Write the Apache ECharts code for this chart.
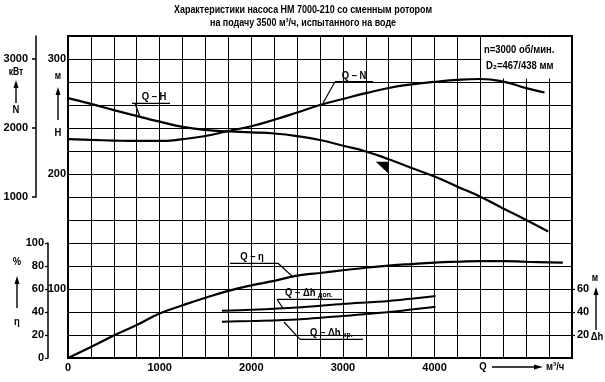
<!DOCTYPE html>
<html><head><meta charset="utf-8">
<script src="https://cdn.jsdelivr.net/npm/echarts@6/dist/echarts.min.js"></script>
<style>html,body{margin:0;padding:0;background:#fff}#c{width:605px;height:382px}</style>
</head><body><div id="c"></div>
<script>
// ---- data ----
const qH   = [0,250,500,750,1000,1250,1500,1750,2000,2250,2500,2750,3000,3250,3500,3750,4000,4250,4500,4750,5000,5240];
const headH = [266,261,255.5,250.5,245.5,241,238.3,237,236.2,235.2,233,229.6,224.6,219.6,212.9,205.2,197.8,189,180.3,170,160,150];

const qN   = [0,250,500,750,1000,1250,1500,1750,2000,2250,2500,2750,3000,3250,3500,3750,4000,4250,4500,4750,5000,5200];
const powerN = [1840,1828,1818,1812,1812,1838,1884,1957,2026,2120,2225,2333,2420,2505,2580,2632,2668,2698,2710,2672,2577,2515];

const qEta = [0,250,500,750,1000,1250,1500,1750,2000,2250,2500,2750,3000,3250,3500,3750,4000,4250,4500,4750,5000,5250,5400];
const eta  = [0,9.5,19.5,28.7,38.7,45.8,52.4,58.4,63.2,67,71.6,73.9,76.3,78.5,80.3,81.7,82.9,83.7,84.3,84.3,83.7,83.2,82.9];

const qDh   = [1680,2000,2500,3000,3500,4010];
const dhDop = [41.1,41.9,43.9,47,49.6,53.9];
const dhKr  = [31.6,32.2,33.5,36.5,40,44.6];

const xTicks   = [0,1000,2000,3000,4000];
const hTicks   = [100,200,300];
const nTicks   = [1000,2000,3000];
const etaTicks = [0,20,40,60,80,100];
const dhTicks  = [20,40,60];
const dutyQ = 3500;

const titleLines = ['Характеристики насоса НМ 7000-210 со сменным ротором', 'на подачу 3500 м³/ч, испытанного на воде'];

// ---- chart ----
const FONT = "'Liberation Sans', Arial, sans-serif";
const lbl = {fontFamily: FONT, fontWeight: 'bold', fontSize: 11, color: '#000'};
const pairs = (xs, ys) => xs.map((x, i) => [x, ys[i]]);
const near = (v, arr) => arr.some(t => Math.abs(v - t) < 0.01);

const chart = echarts.init(document.getElementById('c'));

const SQ = 0.86;
function txt(x, y, s, extra, sq) {
  return {type: 'text', x: x, y: y, z: 50, scaleX: sq || SQ,
    style: Object.assign({text: s, fill: '#000', font: 'bold 11px ' + FONT, align: 'center', verticalAlign: 'middle'}, extra || {})};
}
function ln(x1, y1, x2, y2, w) {
  return {type: 'line', z: 50, shape: {x1: x1, y1: y1, x2: x2, y2: y2}, style: {stroke: '#000', lineWidth: w || 1.2}};
}
function arrowUp(x, yTop, yBot) {
  return [ln(x, yTop + 5, x, yBot, 1.4),
    {type: 'polygon', z: 50, shape: {points: [[x - 2.5, yTop + 8], [x + 2.5, yTop + 8], [x, yTop]]}, style: {fill: '#000'}}];
}
function arrowRight(x1, x2, y) {
  return [ln(x1, y, x2 - 5, y, 1.4),
    {type: 'polygon', z: 50, shape: {points: [[x2 - 9, y - 2.5], [x2 - 9, y + 2.5], [x2, y]]}, style: {fill: '#000'}}];
}
const richSmall = {a: {font: 'bold 11px ' + FONT, fill: '#000'}, b: {font: 'bold 8px ' + FONT, fill: '#000', padding: [3, 0, 0, 0]}};

const cv = document.createElement('canvas').getContext('2d');
cv.font = 'bold 11px ' + FONT;
const titleSq = Math.min(1, 258 / cv.measureText(titleLines[0]).width);

const graphics = [].concat(
  [txt(303, 10, titleLines[0], null, titleSq), txt(303, 23, titleLines[1], null, titleSq)],
  [txt(16, 72, 'кВт', {font: 'bold 10px ' + FONT})], arrowUp(16, 80, 103), [txt(16, 110, 'N')],
  [txt(58, 76, 'м', {font: 'bold 10px ' + FONT})], arrowUp(58, 87, 120), [txt(58, 133, 'H')],
  [txt(17, 262, '%')], arrowUp(17, 276, 308), [txt(17, 322, 'η')],
  [txt(595, 278, 'м', {font: 'bold 10px ' + FONT})], arrowUp(596, 287, 330), [txt(597, 337, 'Δh')],
  [txt(483, 367, 'Q')], arrowRight(492, 543, 367), [txt(546, 367, 'м³/ч', {align: 'left'})],
  [txt(484, 50, 'n=3000 об/мин.', {align: 'left'}), txt(486, 66, 'D₂=467/438 мм', {align: 'left'})],
  [txt(154, 97, 'Q – H'), ln(132, 103.3, 170, 103.3), ln(135, 103.3, 140, 117)],
  [txt(354, 76, 'Q – N'), ln(335, 81.7, 373, 81.7), ln(335, 81.7, 323, 103)],
  [txt(252, 257, 'Q – η'), ln(230, 263.3, 278, 263.3), ln(278, 263.3, 293, 277)],
  [{type: 'text', x: 285, y: 293, z: 50, scaleX: SQ, style: {text: '{a|Q – Δh }{b|доп.}', rich: richSmall, verticalAlign: 'middle'}},
    ln(277, 299.3, 342, 299.3), ln(277, 299.3, 283.5, 309)],
  [{type: 'text', x: 310, y: 333, z: 50, scaleX: SQ, style: {text: '{a|Q – Δh }{b|кр.}', rich: richSmall, verticalAlign: 'middle'}},
    ln(300, 339.3, 363, 339.3), ln(300, 339.3, 284, 322)]
);

const blackLine = {color: '#000', width: 2.2};

chart.setOption({
  animation: false,
  backgroundColor: '#fff',
  grid: [
    {left: 68, right: 33, top: 36, bottom: 24, show: true, borderColor: '#000', borderWidth: 2, backgroundColor: 'transparent'},
    {left: 68, right: 33, top: 36, height: 161},
    {left: 68, right: 33, top: 243, bottom: 24}
  ],
  xAxis: [
    {gridIndex: 0, type: 'value', min: 0, max: 5500, interval: 250,
      axisLine: {onZero: false, lineStyle: {color: '#000', width: 2}}, axisTick: {show: false},
      splitLine: {show: true, lineStyle: {color: '#000', width: 1}},
      axisLabel: Object.assign({}, lbl, {margin: 4, formatter: v => near(v, xTicks) ? String(v) : ''})},
    {gridIndex: 1, type: 'value', min: 0, max: 5500, show: false},
    {gridIndex: 2, type: 'value', min: 0, max: 5500, show: false}
  ],
  yAxis: [
    {gridIndex: 0, type: 'value', min: 40, max: 320, interval: 20,
      axisLine: {show: true, onZero: false, lineStyle: {color: '#000', width: 2}}, axisTick: {show: false},
      splitLine: {show: true, lineStyle: {color: '#000', width: 1}},
      axisLabel: Object.assign({}, lbl, {margin: 2, formatter: v => near(v, hTicks) ? String(v) : ''})},
    {gridIndex: 1, type: 'value', min: 1000, max: 10000 / 3, interval: 1000, position: 'left', offset: 32,
      axisLine: {show: true, onZero: false, lineStyle: {color: '#000', width: 1.5}},
      axisTick: {show: true, length: 4, customValues: nTicks, lineStyle: {color: '#000', width: 1.5}},
      splitLine: {show: false},
      axisLabel: Object.assign({}, lbl, {margin: 8, customValues: nTicks, formatter: v => near(v, nTicks) ? String(Math.round(v)) : ''})},
    {gridIndex: 2, type: 'value', min: 0, max: 100, interval: 20, position: 'left', offset: 20,
      axisLine: {show: true, onZero: false, lineStyle: {color: '#000', width: 1.5}},
      axisTick: {show: true, length: 3, lineStyle: {color: '#000', width: 1.2}},
      splitLine: {show: false},
      axisLabel: Object.assign({}, lbl, {margin: 4, formatter: v => near(v, etaTicks) ? String(v) : ''})},
    {gridIndex: 2, type: 'value', min: 0, max: 100, interval: 20, position: 'right',
      axisLine: {show: true, onZero: false, lineStyle: {color: '#000', width: 2}},
      axisTick: {show: true, length: 3, customValues: dhTicks, lineStyle: {color: '#000', width: 1.2}},
      splitLine: {show: false},
      axisLabel: Object.assign({}, lbl, {margin: 5, customValues: dhTicks, formatter: v => near(v, dhTicks) ? String(v) : ''})}
  ],
  series: [
    {name: 'Q-H', type: 'line', xAxisIndex: 0, yAxisIndex: 0, data: pairs(qH, headH), smooth: 0.5,
      symbol: 'none', lineStyle: blackLine, z: 5,
      markArea: {silent: true, itemStyle: {color: '#fff'}, label: {show: false},
        data: [[{coord: [4510, 283]}, {coord: [5488, 318.9]}]]},
      markPoint: {silent: true, symbol: 'path://M0,0L12,0L12,12Z', symbolSize: [13, 12], symbolOffset: [-6.5, 8.5],
        itemStyle: {color: '#000'}, label: {show: false},
        data: [{coord: [dutyQ, headH[qH.indexOf(dutyQ)]]}]}},
    {name: 'Q-N', type: 'line', xAxisIndex: 1, yAxisIndex: 1, data: pairs(qN, powerN), smooth: 0.5,
      symbol: 'none', lineStyle: blackLine, z: 5},
    {name: 'Q-eta', type: 'line', xAxisIndex: 2, yAxisIndex: 2, data: pairs(qEta, eta), smooth: 0.5,
      symbol: 'none', lineStyle: blackLine, z: 5},
    {name: 'Q-dh dop', type: 'line', xAxisIndex: 2, yAxisIndex: 3, data: pairs(qDh, dhDop), smooth: 0.3,
      symbol: 'none', lineStyle: {color: '#000', width: 2}, z: 5},
    {name: 'Q-dh kr', type: 'line', xAxisIndex: 2, yAxisIndex: 3, data: pairs(qDh, dhKr), smooth: 0.3,
      symbol: 'none', lineStyle: {color: '#000', width: 2}, z: 5}
  ],
  graphic: graphics
});
</script>
</body></html>
